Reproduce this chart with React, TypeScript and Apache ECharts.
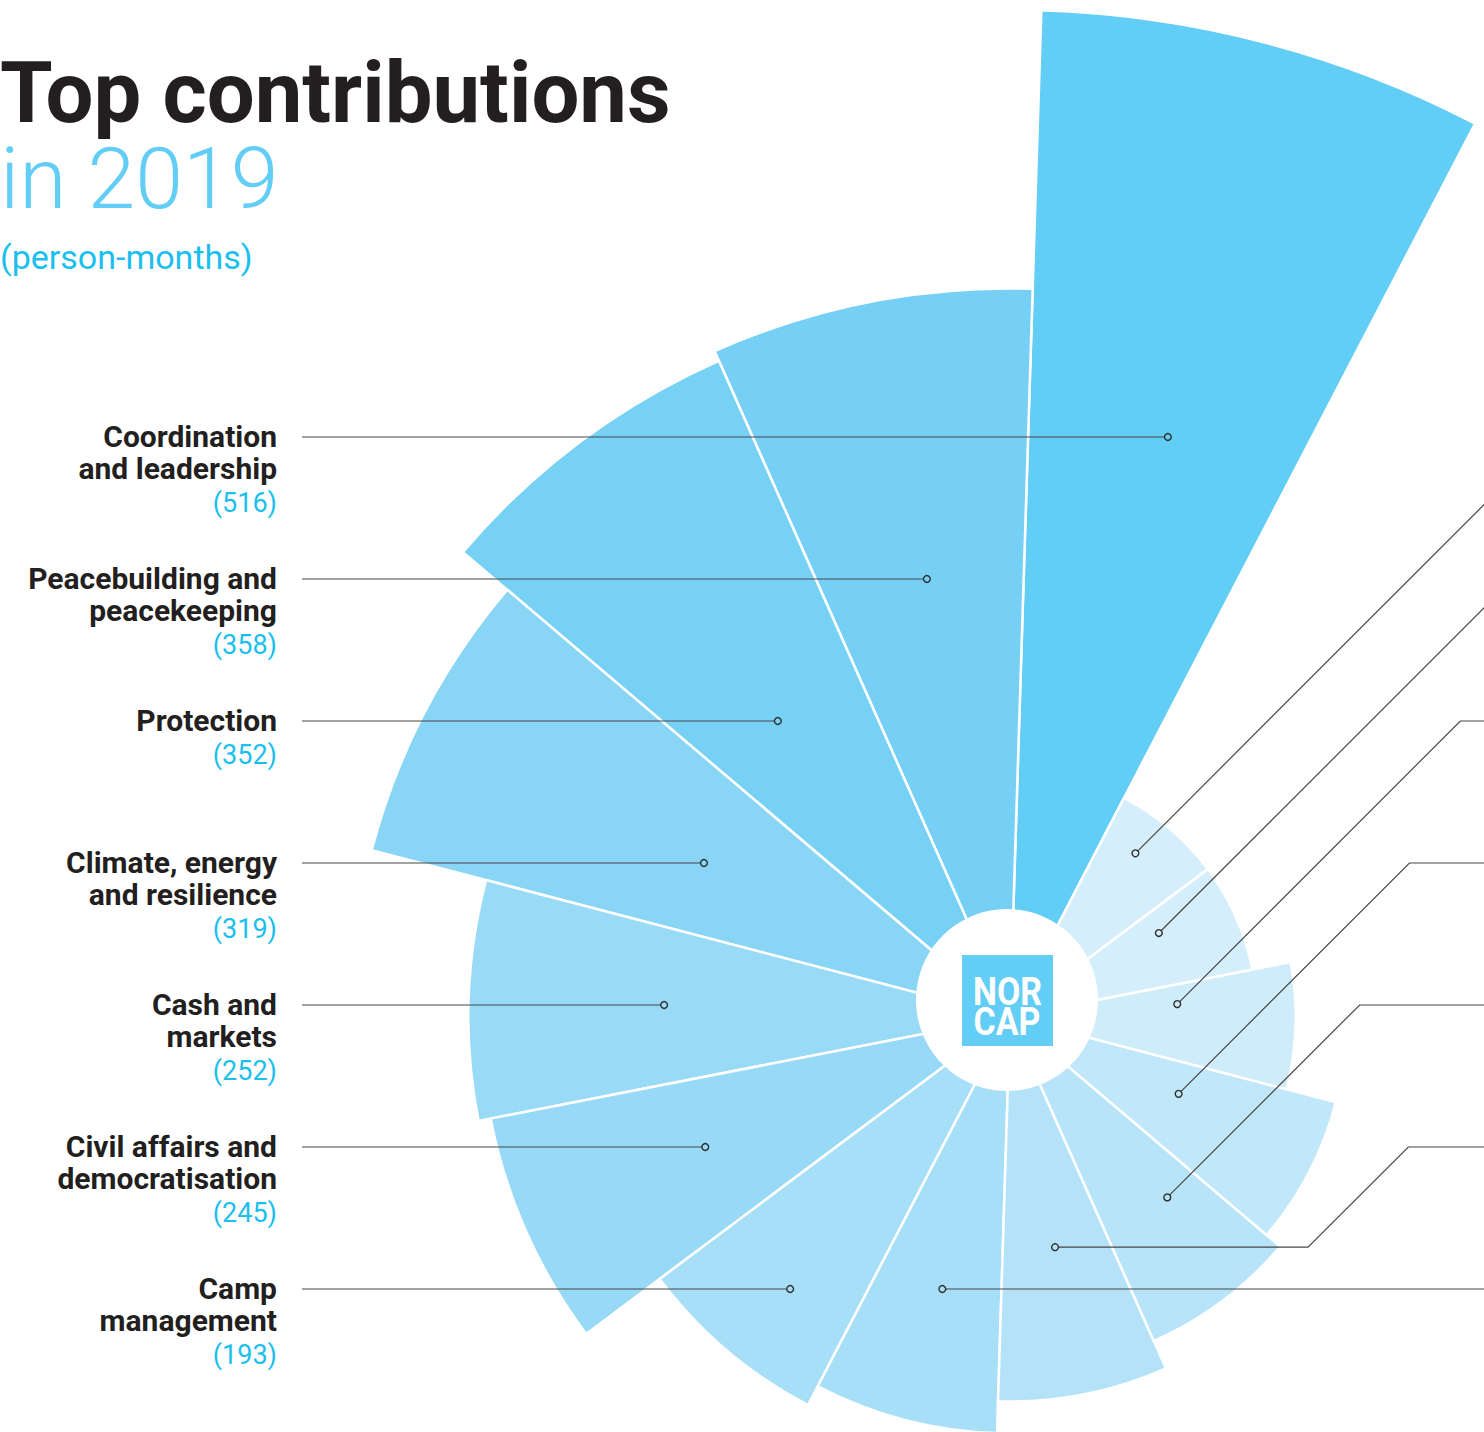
import React, { useEffect, useRef } from 'react';
import * as echarts from 'echarts';

// ---------- data ----------
const categories = [
  'Coordination and leadership',
  'Peacebuilding and peacekeeping',
  'Protection',
  'Climate, energy and resilience',
  'Cash and markets',
  'Civil affairs and democratisation',
  'Camp management',
  'Area 8',
  'Area 9',
  'Area 10',
  'Area 11',
  'Area 12',
  'Area 13',
  'Area 14',
];
const labelLines = [
  ['Coordination', 'and leadership'],
  ['Peacebuilding and', 'peacekeeping'],
  ['Protection'],
  ['Climate, energy', 'and resilience'],
  ['Cash and', 'markets'],
  ['Civil affairs and', 'democratisation'],
  ['Camp', 'management'],
];
const values = [516, 358, 352, 319, 252, 245, 193, 181, 163, 146, 136, 107, 85, 85];

// ---------- styles / layout ----------
const wedgeColors = [
  '#62CDF5', '#76D0F5', '#77D1F5', '#88D5F6', '#99DAF7', '#97D9F6', '#A7DFF8',
  '#A8DFF8', '#B4E3F9', '#B7E4F9', '#C1E8FA', '#CFECFA', '#D4EEFB', '#D5EEFB',
];
const CX = 1010;
const CY = 1017;
const RMIN = -55;
const RMAX = 600;
const PX_PER_UNIT = 1.764;
const START_ANGLE = 62.5;
const ROW0 = 437;
const ROW_STEP = 142;
const LINE_STEP = 32;
const rowIndex = [0, 1, 2, 3, 4, 5, 6, 6, 5, 4, 3, 2, 1, 0];
const LABEL_RIGHT = 277;
const LINE_LEFT = 302;
const LINE_END = 1700;
// pointers on horizontal rows (categories 0..7): share of the bar's horizontal reach
const rowDotShare = [0.62, 0.594, 0.54, 0.523, 0.639, 0.63, 0.776, 0.643];
// pointers on the right (categories 8..13): share of bar length and small rotation
const dotFrac = [0.61, 0.675, 0.55, 0.587, 0.692, 0.835];
const dotRot = [0, -4.3, -3.0, -6.2, -5.5, -2.9];
const dotRun = [253, 0, 0, 0, 0, 0];
const HOLE = { cx: 1007, cy: 1000, r: 91 };
const BLUE = '#62CDF5';
const CYAN = '#1BBFEF';
const INK = '#231F20';

export default function App() {
  const ref = useRef<HTMLDivElement>(null);

  useEffect(() => {
    if (!ref.current) return;
    const chart = echarts.init(ref.current, undefined, { renderer: 'svg' });

    const renderItem = (params: any, api: any) => {
      const i = params.dataIndex;
      const v = api.value(0);
      const c = api.coord([RMIN, i]);
      const tip = api.coord([v, i]);
      let ux = tip[0] - c[0];
      let uy = tip[1] - c[1];
      const len = Math.hypot(ux, uy);
      ux /= len;
      uy /= len;
      const row = ROW0 + ROW_STEP * rowIndex[i];
      let dot: number[];
      let pts: number[][];
      if (i <= 7) {
        dot = [c[0] + rowDotShare[i] * (tip[0] - c[0]), row];
        pts = i < 7 ? [[LINE_LEFT, row], dot] : [dot, [LINE_END, row]];
      } else {
        const j = i - 8;
        const phi = (dotRot[j] * Math.PI) / 180;
        const rx = ux * Math.cos(phi) - uy * Math.sin(phi);
        const ry = ux * Math.sin(phi) + uy * Math.cos(phi);
        const r = dotFrac[j] * len;
        dot = [c[0] + rx * r, c[1] + ry * r];
        const sx = dot[0] + dotRun[j];
        const ex = sx + (dot[1] - row);
        pts = [dot, [sx, dot[1]], [ex, row], [LINE_END, row]];
      }
      const children: any[] = [
        {
          type: 'polyline',
          shape: { points: pts },
          style: { stroke: '#474747', lineWidth: 1.2, fill: 'none' },
        },
        {
          type: 'circle',
          shape: { cx: dot[0], cy: dot[1], r: 3.4 },
          style: { fill: wedgeColors[i], stroke: '#2f2f2f', lineWidth: 1.4 },
        },
      ];
      if (i < labelLines.length) {
        const lines = labelLines[i];
        lines.forEach((ln, j) => {
          children.push({
            type: 'text',
            x: LABEL_RIGHT,
            y: row - 1 + LINE_STEP * j,
            style: {
              text: ln,
              fill: INK,
              font: 'bold 30px Roboto',
              align: 'right',
              verticalAlign: 'middle',
            },
          });
        });
        children.push({
          type: 'text',
          x: LABEL_RIGHT,
          y: row - 1 + LINE_STEP * lines.length + 3,
          style: {
            text: `(${v})`,
            fill: CYAN,
            font: '27px Roboto',
            align: 'right',
            verticalAlign: 'middle',
          },
        });
      }
      return { type: 'group', children };
    };

    chart.setOption({
      animation: false,
      textStyle: { fontFamily: 'Roboto' },
      polar: {
        center: [CX, CY],
        radius: PX_PER_UNIT * (RMAX - RMIN),
      },
      angleAxis: {
        type: 'category',
        data: categories,
        startAngle: START_ANGLE,
        clockwise: false,
        boundaryGap: true,
        axisLine: { show: false },
        axisTick: { show: false },
        axisLabel: { show: false },
        splitLine: { show: false },
      },
      radiusAxis: {
        type: 'value',
        min: RMIN,
        max: RMAX,
        startValue: RMIN,
        axisLine: { show: false },
        axisTick: { show: false },
        axisLabel: { show: false },
        splitLine: { show: false },
      },
      series: [
        {
          type: 'bar',
          coordinateSystem: 'polar',
          barCategoryGap: '0%',
          silent: true,
          z: 2,
          data: values.map((v, i) => ({
            value: v,
            itemStyle: { color: wedgeColors[i] },
          })),
          itemStyle: { borderColor: '#ffffff', borderWidth: 2.5 },
        },
        {
          type: 'custom',
          coordinateSystem: 'polar',
          clip: false,
          silent: true,
          z: 10,
          encode: { radius: 0, angle: 1 },
          data: values.map((v, i) => [v, i]),
          renderItem,
        },
      ],
      graphic: {
        elements: [
          {
            type: 'circle',
            z: 100,
            shape: { cx: HOLE.cx, cy: HOLE.cy, r: HOLE.r },
            style: { fill: '#ffffff' },
          },
          {
            type: 'rect',
            z: 101,
            shape: { x: 962, y: 955, width: 91, height: 91 },
            style: { fill: BLUE },
          },
          {
            type: 'text',
            z: 102,
            x: 1007.5,
            y: 991.5,
            scaleX: 0.87,
            style: {
              text: 'NOR',
              fill: '#ffffff',
              font: 'bold 39px Roboto',
              align: 'center',
              verticalAlign: 'middle',
            },
          },
          {
            type: 'text',
            z: 102,
            x: 1007,
            y: 1022,
            scaleX: 0.87,
            style: {
              text: 'CAP',
              fill: '#ffffff',
              font: 'bold 39px Roboto',
              align: 'center',
              verticalAlign: 'middle',
            },
          },
          {
            type: 'text',
            z: 102,
            x: 0,
            y: 93,
            style: {
              text: 'Top contributions',
              fill: INK,
              font: 'bold 85px Roboto',
              align: 'left',
              verticalAlign: 'middle',
            },
          },
          {
            type: 'text',
            z: 102,
            x: 0,
            y: 178,
            style: {
              text: 'in 2019',
              fill: BLUE,
              font: '300 86px Roboto',
              align: 'left',
              verticalAlign: 'middle',
            },
          },
          {
            type: 'text',
            z: 102,
            x: 0,
            y: 257,
            style: {
              text: '(person-months)',
              fill: CYAN,
              font: '34px Roboto',
              align: 'left',
              verticalAlign: 'middle',
            },
          },
        ],
      },
    });

    return () => chart.dispose();
  }, []);

  return (
    <div
      ref={ref}
      style={{ position: 'absolute', left: 0, top: 0, width: 1484, height: 1432 }}
    />
  );
}
